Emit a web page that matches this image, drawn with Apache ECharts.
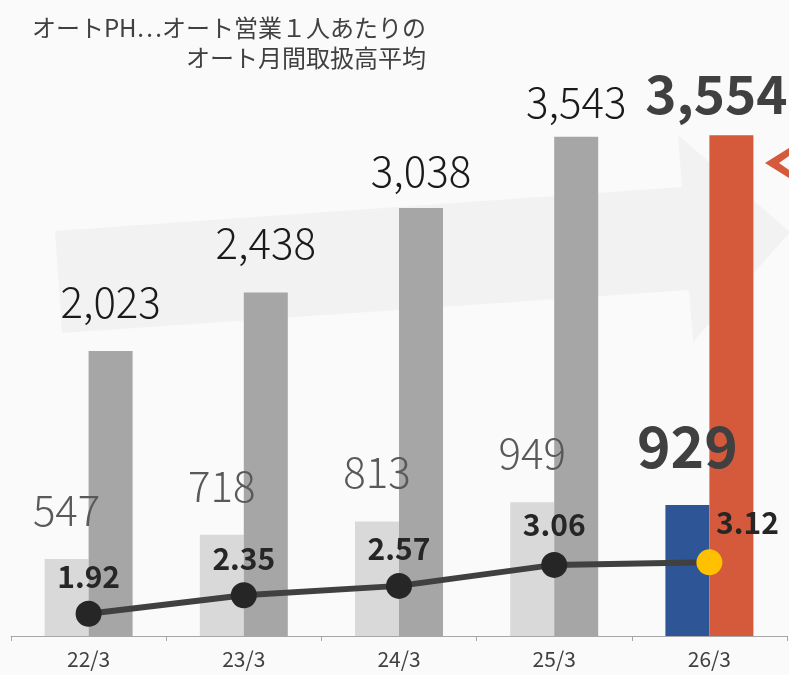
<!DOCTYPE html>
<html>
<head>
<meta charset="utf-8">
<script src="https://cdn.jsdelivr.net/npm/echarts@6/dist/echarts.min.js"></script>
<style>
  html, body { margin: 0; padding: 0; background: #fafafa; }
  #main { width: 789px; height: 675px; }
</style>
</head>
<body>
<div id="main"></div>
<script>
var categories = ["22/3", "23/3", "24/3", "25/3", "26/3"];
var phValues = [547, 718, 813, 949, 929];          // オートPH
var salesValues = [2023, 2438, 3038, 3543, 3554];  // オート営業１人あたり
var ratioValues = [1.92, 2.35, 2.57, 3.06, 3.12];  // 倍率
var noteLines = ["オートPH…オート営業１人あたりの", "オート月間取扱高平均"];

var FONT = '"Noto Sans CJK JP", "Noto Sans", sans-serif';
var chart = echarts.init(document.getElementById("main"));

//最後の項目だけ強調色にする
function barData (values, color, lastColor, lastLabel) {
  var arr = [];
  for (var i = 0; i < values.length; i++) {
    var item = { value: values[i] };
    if (i === values.length - 1) {
      item.itemStyle = { color: lastColor };
      item.label = lastLabel;
    }
    arr.push(item);
  }
  return arr;
}

var phData = barData(phValues, "#d9d9d9", "#2e5596",
  { fontSize: 57, fontWeight: "bold", color: "#404040", distance: 30 });
var salesData = barData(salesValues, "#a6a6a6", "#d5593b",
  { fontSize: 53, fontWeight: "bold", color: "#404040", distance: 15, offset: [-15, 0] });
salesData[2].label = { distance: 16 };
salesData[3].label = { distance: 14 };

var ratioData = [];
for (var i = 0; i < ratioValues.length; i++) {
  ratioData.push({ value: ratioValues[i] });
}
ratioData[3].label = { distance: 12 };
ratioData[4].itemStyle = { color: "#ffc000" };
ratioData[4].label = { distance: 12, offset: [38, 0] };

//注記テキスト(右揃え)
var noteGraphics = [];
for (var j = 0; j < noteLines.length; j++) {
  noteGraphics.push({
    type: "text",
    z: 10,
    style: {
      x: 426,
      y: 28 + j * 30,
      text: noteLines[j],
      align: "right",
      verticalAlign: "middle",
      fontFamily: FONT,
      fontSize: 24,
      fill: "#404040"
    }
  });
}

var option = {
  backgroundColor: "#fafafa",
  animation: false,
  grid: { left: 11, right: 2, top: 2, bottom: 39 },
  xAxis: {
    type: "category",
    data: categories,
    boundaryGap: true,
    axisLine: { lineStyle: { color: "#a6a6a6", width: 1 } },
    axisTick: { show: true, length: 5, lineStyle: { color: "#a6a6a6" } },
    axisLabel: { fontFamily: FONT, fontSize: 21, color: "#404040", margin: 13 }
  },
  yAxis: [
    { type: "value", min: 0, max: 4500, show: false, splitLine: { show: false } },
    { type: "value", min: 1.4, max: 16.2, show: false, splitLine: { show: false } }
  ],
  graphic: [
    { //背景の矢印
      type: "polygon",
      z: -10,
      shape: { points: [[55, 231], [682, 187], [678, 135], [790, 232], [693, 342], [689, 290], [62, 333]] },
      style: { fill: "#f2f2f2" }
    },
    { //右端の赤い矢印
      type: "polygon",
      z: 10,
      shape: { points: [[765, 163], [792, 146], [792, 154], [779, 163], [792, 172], [792, 180]] },
      style: { fill: "#d5593b" }
    }
  ].concat(noteGraphics),
  series: [
    {
      name: "PH",
      type: "bar",
      data: phData,
      barWidth: 44,
      barGap: "0%",
      itemStyle: { color: "#d9d9d9" },
      label: {
        show: true, position: "top", distance: 28,
        fontFamily: FONT, fontSize: 42, fontWeight: 300, color: "#595959"
      }
    },
    {
      name: "営業",
      type: "bar",
      data: salesData,
      barWidth: 44,
      barGap: "0%",
      itemStyle: { color: "#a6a6a6" },
      label: {
        show: true, position: "top", distance: 28,
        fontFamily: FONT, fontSize: 42, fontWeight: 300, color: "#1a1a1a",
        formatter: function (p) { return p.value.toLocaleString("en-US"); }
      }
    },
    {
      name: "倍率",
      type: "line",
      yAxisIndex: 1,
      data: ratioData,
      symbol: "circle",
      symbolSize: 26,
      lineStyle: { color: "#404040", width: 6 },
      itemStyle: { color: "#262626" },
      z: 5,
      label: {
        show: true, position: "top", distance: 9,
        fontFamily: FONT, fontSize: 30, fontWeight: "bold", color: "#262626",
        formatter: function (p) { return p.value.toFixed(2); }
      }
    }
  ]
};
chart.setOption(option);
</script>
</body>
</html>
